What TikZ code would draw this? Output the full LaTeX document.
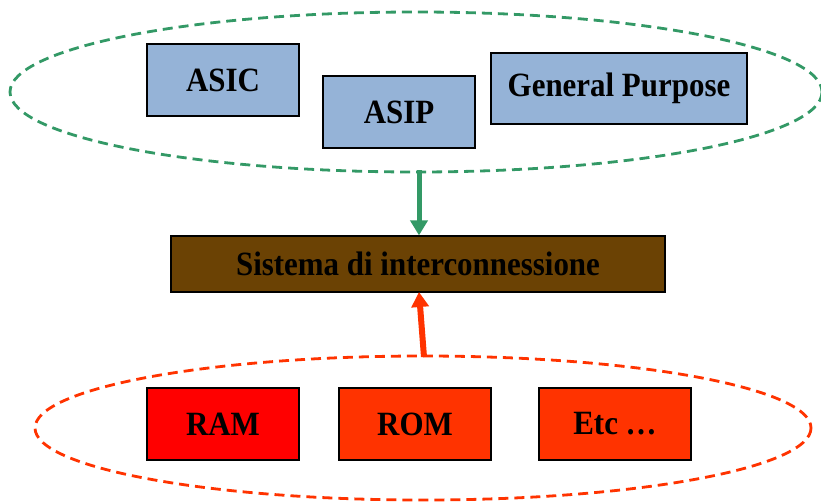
\documentclass[tikz,border=0pt]{standalone}
\usepackage{fontspec}
\setmainfont[FakeStretch=0.91]{Liberation Serif}
\usetikzlibrary{arrows.meta}
\definecolor{boxblue}{RGB}{149,179,215}
\definecolor{busbrown}{RGB}{107,66,4}
\definecolor{memred}{RGB}{255,0,0}
\definecolor{memorange}{RGB}{255,51,0}
\definecolor{groupgreen}{RGB}{51,153,102}
\tikzset{
  unit/.style={draw=black, line width=1.2pt, minimum width=152pt, minimum height=72pt,
    font=\fontsize{34}{38}\selectfont\bfseries, inner sep=0pt},
  proc/.style={unit, fill=boxblue},
  group/.style={line width=2.8pt, dash pattern=on 10pt off 6pt},
  link/.style={line width=5pt, -{Triangle[length=15pt, width=17pt]}}
}
\begin{document}
\begin{tikzpicture}[x=1pt, y=-1pt]
  \useasboundingbox (0,0) rectangle (821,503);
  % processing elements
  \draw[group, groupgreen] (416,92) ellipse [x radius=406, y radius=80];
  \node[proc] (asic) at (223,80) {ASIC};
  \node[proc] (asip) at (399,112) {ASIP};
  \node[proc, minimum width=256pt, minimum height=71pt] (gp) at (619,88.5) {General Purpose};
  % interconnect
  \node[unit, fill=busbrown, minimum width=494pt, minimum height=56pt] (bus) at (418,264)
    {Sistema di interconnessione};
  % memories
  \draw[group, memorange] (423,428) ellipse [x radius=388, y radius=72];
  \node[unit, fill=memred] (ram) at (223,424) {RAM};
  \node[unit, fill=memorange] (rom) at (415,424) {ROM};
  \node[unit, fill=memorange] (etc) at (615,424) {Etc \dots};
  % connectors
  \coordinate (gtop) at (419,170);
  \coordinate (mtop) at (424,357);
  \draw[link, groupgreen] (gtop) -- (bus.north -| gtop);
  \draw[link, memorange, line width=6pt] (mtop) -- (419,292);
\end{tikzpicture}
\end{document}
